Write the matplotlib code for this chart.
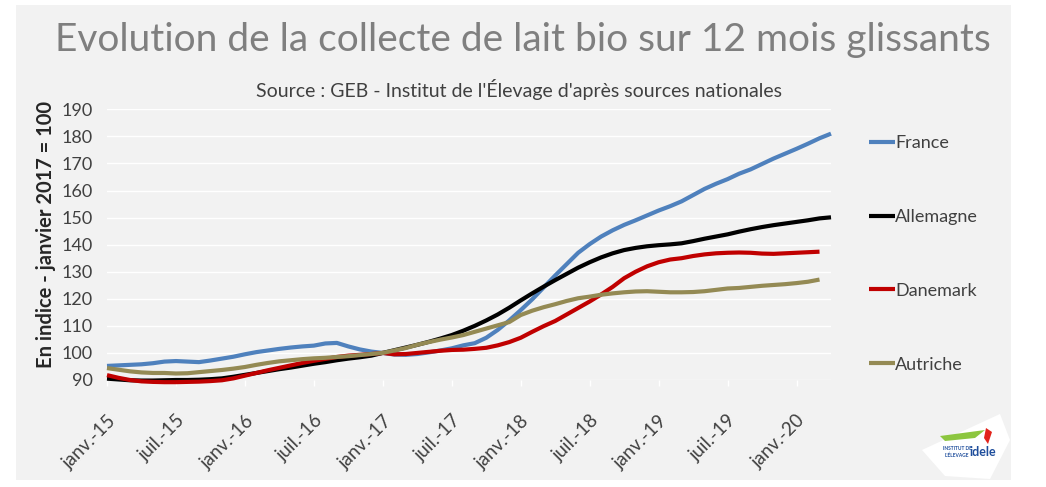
import matplotlib
matplotlib.use("Agg")
import matplotlib.pyplot as plt
from matplotlib.patches import Rectangle, Polygon

# -------------------------------
# Data (index, janvier 2017 = 100), monthly from janv.-15
# -------------------------------
france = [95.2, 95.4, 95.6, 95.8, 96.2, 96.8, 97.0, 96.8, 96.6, 97.2,
          97.9, 98.6, 99.5, 100.3, 100.9, 101.5, 102.0, 102.4, 102.7, 103.5,
          103.7, 102.4, 101.3, 100.5, 100.0, 99.4, 99.3, 99.6, 100.2, 100.9,
          101.7, 102.8, 103.6, 105.6, 108.5, 112.0, 115.8, 119.8, 124.2, 128.6,
          132.8, 137.0, 140.2, 143.0, 145.3, 147.3, 149.0, 150.8, 152.6, 154.2,
          156.0, 158.3, 160.6, 162.5, 164.2, 166.2, 167.8, 169.8, 171.8, 173.6,
          175.4, 177.3, 179.3, 181.0]
allemagne = [90.5, 90.2, 89.9, 89.8, 89.8, 89.9, 90.0, 90.0, 90.1, 90.3,
             90.6, 91.2, 91.9, 92.6, 93.3, 94.0, 94.6, 95.3, 96.0, 96.6,
             97.3, 97.9, 98.4, 99.0, 100.0, 101.0, 102.0, 103.0, 104.1, 105.3,
             106.6, 108.2, 110.0, 112.0, 114.2, 116.7, 119.4, 122.0, 124.5, 126.9,
             129.2, 131.5, 133.5, 135.3, 136.8, 138.0, 138.8, 139.4, 139.8, 140.1,
             140.5, 141.3, 142.2, 143.0, 143.8, 144.8, 145.7, 146.5, 147.2, 147.8,
             148.4, 149.0, 149.7, 150.1]
danemark = [91.8, 90.8, 90.0, 89.5, 89.3, 89.2, 89.2, 89.3, 89.4, 89.6,
            89.9, 90.6, 91.6, 92.6, 93.6, 94.5, 95.4, 96.3, 97.1, 97.8,
            98.5, 99.0, 99.3, 99.6, 100.0, 99.5, 99.6, 100.0, 100.4, 100.8,
            101.1, 101.2, 101.5, 101.9, 102.8, 104.0, 105.6, 107.8, 109.9, 111.8,
            114.2, 116.6, 119.0, 121.6, 124.4, 127.6, 130.0, 132.0, 133.5, 134.5,
            135.0, 135.8, 136.4, 136.8, 137.0, 137.1, 137.0, 136.7, 136.6, 136.8,
            137.0, 137.2, 137.4]
autriche = [94.4, 93.8, 93.2, 92.8, 92.6, 92.6, 92.4, 92.5, 92.9, 93.3,
            93.7, 94.2, 94.8, 95.6, 96.3, 96.9, 97.3, 97.7, 98.0, 98.2,
            98.5, 98.8, 99.2, 99.6, 100.0, 100.9, 101.8, 103.0, 104.0, 104.9,
            105.7, 106.6, 107.8, 109.0, 110.2, 111.4, 114.0, 115.6, 116.9, 118.0,
            119.2, 120.2, 120.8, 121.5, 122.0, 122.4, 122.7, 122.8, 122.6, 122.4,
            122.4, 122.5, 122.8, 123.3, 123.8, 124.0, 124.4, 124.8, 125.1, 125.4,
            125.8, 126.3, 127.1]

series = ["France", "Allemagne", "Danemark", "Autriche"]
colors = ["#4f81bd", "#000000", "#c00000", "#948a54"]

tick_labels = ["janv.-15", "juil.-15", "janv.-16", "juil.-16", "janv.-17", "juil.-17",
               "janv.-18", "juil.-18", "janv.-19", "juil.-19", "janv.-20"]
y_ticks = [90, 100, 110, 120, 130, 140, 150, 160, 170, 180, 190]

plt.rcParams["font.family"] = ["Lato", "DejaVu Sans"]

# -------------------------------
# Figure
# -------------------------------
fig = plt.figure(figsize=(10.46, 4.87), dpi=100)
fig.patch.set_facecolor("white")
W, H = 1046, 487
panel = Rectangle((16 / W, 7 / H), (1011 - 16) / W, (482 - 7) / H,
                  transform=fig.transFigure, facecolor="#f2f2f2", edgecolor="none", zorder=0)
fig.add_artist(panel)

ax = fig.add_axes([107 / W, 107 / H, (831 - 107) / W, (380 - 109.3) / H])
ax.set_facecolor("none")

for name, vals, c in zip(series, [france, allemagne, danemark, autriche], colors):
    ax.plot(range(len(vals)), vals, color=c, lw=3.0, label=name,
            solid_capstyle="butt", clip_on=False, zorder=3)

ax.set_xlim(0, 63)
ax.set_ylim(90, 190)
ax.set_yticks(y_ticks)
ax.set_xticks(range(0, 61, 6))
ax.set_xticks(range(0, 61, 12), minor=True)
ax.set_xticklabels(tick_labels, rotation=45, ha="right", va="top",
                   rotation_mode="anchor", fontsize=13.5, color="#404040")
ax.tick_params(axis="x", which="major", length=4, color="white", width=1, pad=19)
ax.tick_params(axis="x", which="minor", length=0)
ax.tick_params(axis="y", length=0, labelsize=13, labelcolor="#404040", pad=10)

ax.grid(True, axis="y", color="white", lw=1)
ax.grid(True, axis="x", which="minor", color="white", lw=1)
ax.set_axisbelow(True)
for s in ax.spines.values():
    s.set_visible(False)

ax.set_ylabel("En indice - janvier 2017 = 100", fontsize=14.5, fontweight="bold",
              color="#262626")
ax.yaxis.set_label_coords(-0.071, 0.536)

fig.text(523 / W, 1 - 40 / H, "Evolution de la collecte de lait bio sur 12 mois glissants",
         ha="center", va="center", fontsize=28, color="#7f7f7f")
fig.text(519 / W, 1 - 89 / H, "Source : GEB - Institut de l'Élevage d'après sources nationales",
         ha="center", va="center", fontsize=14, color="#404040")

ax.legend(loc="upper left", bbox_to_anchor=(862 / W, 1 - 128 / H), bbox_transform=fig.transFigure,
          frameon=False, fontsize=13, labelcolor="#404040", handlelength=1.4,
          handletextpad=0.05, labelspacing=3.2, borderaxespad=0)

# logo (rough)
logo = Polygon([(922 / W, 1 - 450 / H), (1000 / W, 1 - 414 / H), (1010 / W, 1 - 440 / H),
                (990 / W, 1 - 479 / H), (945 / W, 1 - 476 / H)],
               closed=True, transform=fig.transFigure, facecolor="white", edgecolor="none")
fig.add_artist(logo)
fig.text(957 / W, 1 - 452 / H, "INSTITUT DE\nL'ÉLEVAGE", fontsize=3.5, color="#1f4e9c",
         ha="center", va="center", fontweight="bold")
fig.text(983 / W, 1 - 452 / H, "idele", fontsize=9, color="#1f4e9c",
         ha="center", va="center", fontweight="bold")
fig.add_artist(Polygon([(940 / W, 1 - 436 / H), (985 / W, 1 - 430 / H), (975 / W, 1 - 438 / H),
                        (945 / W, 1 - 441 / H)], closed=True, transform=fig.transFigure,
                       facecolor="#8cc63f", edgecolor="none"))
fig.add_artist(Polygon([(986 / W, 1 - 428 / H), (992 / W, 1 - 432 / H), (988 / W, 1 - 444 / H),
                        (984 / W, 1 - 438 / H)], closed=True, transform=fig.transFigure,
                       facecolor="#e2231a", edgecolor="none"))

fig.savefig("out.png", dpi=100, facecolor="white")
